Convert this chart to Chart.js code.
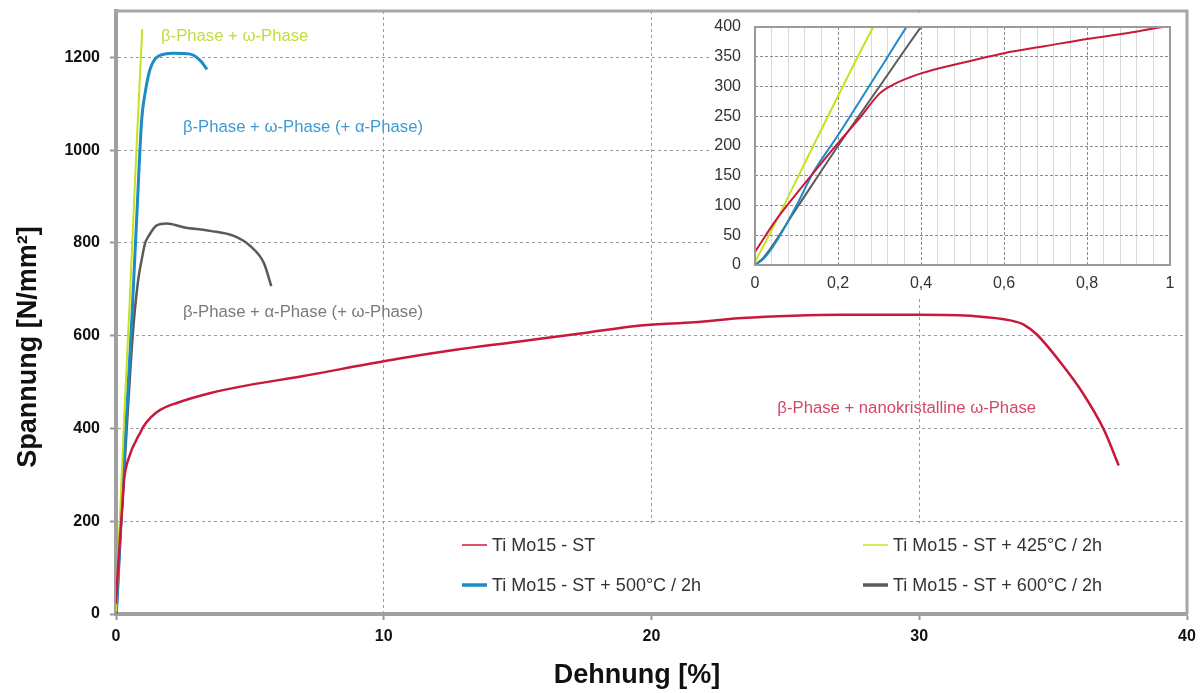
<!DOCTYPE html>
<html><head><meta charset="utf-8">
<script src="https://cdn.jsdelivr.net/npm/chart.js@4/dist/chart.umd.min.js"></script>
<style>
html,body{margin:0;padding:0;background:#fff;}
#wrap{position:relative;width:1202px;height:693px;overflow:hidden;}
#main{position:absolute;left:0;top:0;}
#inset{position:absolute;left:710px;top:13px;background:#fff;}
</style></head><body>
<div id="wrap"><canvas id="main" width="1202" height="693"></canvas><canvas id="inset" width="474" height="285"></canvas></div>
<script>
// ---- data (Dehnung in %, Spannung in N/mm²) ----
const seriesLabels = ['Ti Mo15 - ST', 'Ti Mo15 - ST + 425°C / 2h', 'Ti Mo15 - ST + 500°C / 2h', 'Ti Mo15 - ST + 600°C / 2h'];

const strainST = [0,0.05,0.1,0.15,0.2,0.25,0.3,0.33,0.4,0.5,0.6,0.7,0.8,0.9,1.0,1.3,1.65,2.27,3.5,5.0,6.9,10,12.5,15,17.5,19.6,21.6,23.4,25.3,27.1,30,32.1,33.4,33.9,34.4,35.4,36.1,36.9,37.45];
const stressST = [22,75,120,163,205,245,288,302,322,340,356,368,380,390,402,424,440,455,476,494,512,545,568,587,606,622,629,638,643,645,645,642,633,624,602,533,477,397,320];

const strain425 = [0,0.05,0.1,0.2,0.285,0.5,0.75,0.98];
const stress425 = [5,72,143,284,400,660,985,1261];

const strain500 = [0,0.02,0.05,0.1,0.14,0.2,0.3,0.365,0.59,0.77,0.96,1.09,1.27,1.59,2.14,2.77,3.15,3.4];
const stress500 = [0,10,38,100,155,218,328,400,635,850,1066,1124,1174,1203,1209,1207,1193,1174];

const strain600 = [0,0.02,0.1,0.2,0.3,0.4,0.55,0.68,0.84,0.96,1.09,1.21,1.52,1.9,2.52,3.52,4.4,5.02,5.52,5.8];
const stress600 = [0,12,95,200,300,400,540,640,725,764,800,814,838,842,834,826,815,793,757,707];

const mainXTicks = [0,10,20,30,40];
const mainYTicks = [0,200,400,600,800,1000,1200];
const insetXTicks = ['0','0,2','0,4','0,6','0,8','1'];
const insetYTicks = [0,50,100,150,200,250,300,350,400];

const phaseNotes = ['β-Phase + ω-Phase', 'β-Phase + ω-Phase (+ α-Phase)', 'β-Phase + α-Phase (+ ω-Phase)', 'β-Phase + nanokristalline ω-Phase'];
const noteSeries = [1, 2, 3, 0];

// ---- styles ----
const colors = ['#c8193c', '#c6e31e', '#1e8bc6', '#5a5a5a'];
const textColors = ['#d24868', '#c2dc3c', '#3c9bd2', '#7a7a7a'];
const mainWidths = [2.5, 2, 3, 2.5];
const insetWidths = [2, 2, 2, 2];
const FONT = "'Liberation Sans', Arial, sans-serif";
// annotation anchor in data coordinates (left, middle), same order as phaseNotes
const notePos = [[1.68,1246],[2.5,1048],[2.5,651],[24.7,444]];

function pts(xs, ys){ return xs.map((x,i)=>({x:x, y:ys[i]})); }
const allData = [pts(strainST,stressST), pts(strain425,stress425), pts(strain500,stress500), pts(strain600,stress600)];

function makeDatasets(widths){
  return allData.map((d,i)=>({
    label: seriesLabels[i], data: d, borderColor: colors[i], backgroundColor: colors[i],
    borderWidth: widths[i], pointRadius: 0, showLine: true, fill: false,
    cubicInterpolationMode: 'monotone'
  }));
}

const mainPlugin = {
  id: 'mainExtras',
  afterDraw(chart){
    const ctx = chart.ctx, a = chart.chartArea, xs = chart.scales.x, ys = chart.scales.y;
    ctx.save();
    // frame top/right
    ctx.strokeStyle = '#a6a6a6'; ctx.lineWidth = 3;
    ctx.beginPath(); ctx.moveTo(a.left-2, a.top); ctx.lineTo(a.right, a.top); ctx.lineTo(a.right, a.bottom); ctx.stroke();
    // legend box
    ctx.fillStyle = '#fff';
    const lt = ys.getPixelForValue(200)+2;
    ctx.fillRect(445, lt, a.right-2-445, a.bottom-2-lt);
    const cols = [462, 863], rows = [545, 585];
    const legW = [1.5, 1.5, 3.5, 3.5];
    const place = [[0,0],[1,0],[0,1],[1,1]];
    ctx.font = '18px ' + FONT; ctx.textBaseline = 'middle'; ctx.textAlign = 'left';
    seriesLabels.forEach((lab,i)=>{
      const x = cols[place[i][0]], y = rows[place[i][1]];
      ctx.strokeStyle = colors[i]; ctx.lineWidth = legW[i];
      ctx.beginPath(); ctx.moveTo(x, y); ctx.lineTo(x+25, y); ctx.stroke();
      ctx.fillStyle = '#333'; ctx.fillText(lab, x+30, y+1);
    });
    // phase annotations
    ctx.font = '16.7px ' + FONT;
    phaseNotes.forEach((t,i)=>{
      ctx.fillStyle = textColors[noteSeries[i]];
      ctx.fillText(t, xs.getPixelForValue(notePos[i][0]), ys.getPixelForValue(notePos[i][1]));
    });
    // axis titles
    ctx.fillStyle = '#111'; ctx.font = 'bold 27px ' + FONT; ctx.textAlign = 'center';
    ctx.fillText('Dehnung [%]', 637, 676);
    ctx.translate(29, 347); ctx.rotate(-Math.PI/2);
    ctx.fillText('Spannung [N/mm²]', 0, 0);
    ctx.restore();
  }
};

new Chart(document.getElementById('main'), {
  type: 'scatter',
  data: { datasets: makeDatasets(mainWidths) },
  options: {
    responsive: false, animation: false, devicePixelRatio: 1,
    layout: { padding: { top: 11, right: 15, left: 0, bottom: 0 } },
    plugins: { legend: { display: false }, tooltip: { enabled: false } },
    scales: {
      x: {
        type: 'linear', min: 0, max: 40,
        afterFit(s){ s.height = 79; s.paddingLeft = 0; s.paddingRight = 0; },
        afterBuildTicks(s){ s.ticks = mainXTicks.map(v=>({value:v})); },
        ticks: { padding: 7, color: '#111', font: { family: FONT, size: 16, weight: 'bold' }, callback(v){ return String(v); } },
        grid: { color: '#9a9a9a', lineWidth: 1, tickLength: 6, tickColor: '#999', tickWidth: 2, tickBorderDash: [] },
        border: { display: true, color: '#a0a0a0', width: 4, dash: [3,3] }
      },
      y: {
        type: 'linear', min: 0, max: 1300,
        afterFit(s){ s.width = 116; s.paddingTop = 0; s.paddingBottom = 0; },
        afterBuildTicks(s){ s.ticks = mainYTicks.map(v=>({value:v})); },
        ticks: { padding: 10, color: '#111', font: { family: FONT, size: 16, weight: 'bold' }, callback(v){ return String(v); } },
        grid: { color: '#9a9a9a', lineWidth: 1, tickLength: 6, tickColor: '#999', tickWidth: 2, tickBorderDash: [] },
        border: { display: true, color: '#a0a0a0', width: 4, dash: [3,3] }
      }
    }
  },
  plugins: [mainPlugin]
});

const insetPlugin = {
  id: 'insetFrame',
  afterDraw(chart){
    const ctx = chart.ctx, a = chart.chartArea;
    ctx.save(); ctx.strokeStyle = '#9a9a9a'; ctx.lineWidth = 2;
    ctx.strokeRect(a.left, a.top, a.right-a.left, a.bottom-a.top);
    ctx.restore();
  }
};

new Chart(document.getElementById('inset'), {
  type: 'scatter',
  data: { datasets: makeDatasets(insetWidths) },
  options: {
    responsive: false, animation: false, devicePixelRatio: 1,
    layout: { padding: { top: 14, right: 14, left: 0, bottom: 0 } },
    plugins: { legend: { display: false }, tooltip: { enabled: false } },
    scales: {
      xMinor: {
        type: 'linear', position: 'bottom', min: 0, max: 1,
        afterFit(s){ s.height = 0; s.paddingLeft = 0; s.paddingRight = 0; },
        afterBuildTicks(s){ const t=[]; for(let i=1;i<25;i++){ if(i%5) t.push({value:i*0.04}); } s.ticks = t; },
        ticks: { display: false },
        grid: { color: '#dadada', lineWidth: 1, drawTicks: false },
        border: { display: false }
      },
      x: {
        type: 'linear', position: 'bottom', min: 0, max: 1,
        afterFit(s){ s.height = 33; s.paddingLeft = 0; s.paddingRight = 0; },
        afterBuildTicks(s){ s.ticks = insetXTicks.map((l,i)=>({value:i*0.2})); },
        ticks: { padding: 9, color: '#333', font: { family: FONT, size: 16 }, callback(v,i){ return insetXTicks[i]; } },
        grid: { color: '#8a8a8a', lineWidth: 1, drawTicks: false },
        border: { display: false, dash: [3,2] }
      },
      y: {
        type: 'linear', min: 0, max: 400,
        afterFit(s){ s.width = 45; s.paddingTop = 0; s.paddingBottom = 0; },
        afterBuildTicks(s){ s.ticks = insetYTicks.map(v=>({value:v})); },
        ticks: { padding: 14, color: '#333', font: { family: FONT, size: 16 }, callback(v){ return String(v); } },
        grid: { color: '#8a8a8a', lineWidth: 1, drawTicks: false },
        border: { display: false, dash: [3,2] }
      }
    }
  },
  plugins: [insetPlugin]
});
</script>
</body></html>
